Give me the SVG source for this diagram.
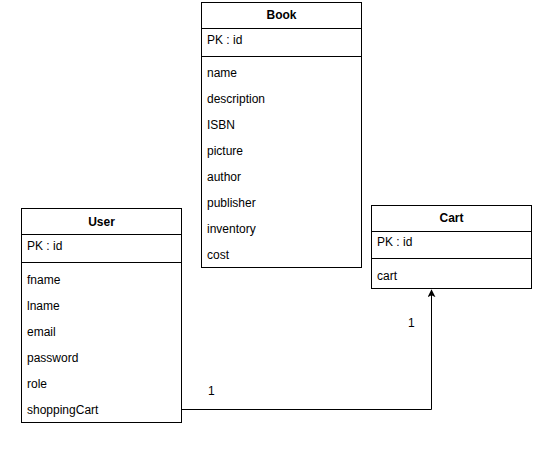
<svg xmlns="http://www.w3.org/2000/svg" width="554" height="458" viewBox="0 0 554 458">
<style>
.box{fill:#fff;stroke:#000;stroke-width:1}
.ln{stroke:#000;stroke-width:1;fill:none}
text{font-family:"Liberation Sans",Arial,sans-serif;font-size:12px;fill:#000}
.t{font-weight:bold;text-anchor:middle}
</style>
<defs>
<marker id="arr" viewBox="0 0 10 10" refX="9" refY="5" markerWidth="8" markerHeight="8" markerUnits="userSpaceOnUse" orient="auto">
<path d="M0,0 L10,5 L0,10 L2.5,5 Z" fill="#000"/>
</marker>
</defs>
<rect width="554" height="458" fill="#fff"/>
<g id="connectors">
<path class="ln" d="M181.5,409.5 H431.5 V290" marker-end="url(#arr)"/>
<text x="208" y="395">1</text>
<text x="408" y="327">1</text>
</g>
<g id="book">
<rect class="box" x="201.5" y="2.5" width="160" height="265"/>
<line class="ln" x1="201.5" y1="28.5" x2="361.5" y2="28.5"/>
<line class="ln" x1="201.5" y1="56.5" x2="361.5" y2="56.5"/>
<text class="t" x="281.5" y="19">Book</text>
<text x="207" y="44">PK : id</text>
<text x="207" y="77">name</text>
<text x="207" y="103">description</text>
<text x="207" y="129">ISBN</text>
<text x="207" y="155">picture</text>
<text x="207" y="181">author</text>
<text x="207" y="207">publisher</text>
<text x="207" y="233">inventory</text>
<text x="207" y="259">cost</text>
</g>
<g id="user">
<rect class="box" x="21.5" y="208.5" width="160" height="214"/>
<line class="ln" x1="21.5" y1="234.5" x2="181.5" y2="234.5"/>
<line class="ln" x1="21.5" y1="262.5" x2="181.5" y2="262.5"/>
<text class="t" x="101.5" y="226">User</text>
<text x="27" y="250">PK : id</text>
<text x="27" y="284">fname</text>
<text x="27" y="310">lname</text>
<text x="27" y="336">email</text>
<text x="27" y="362">password</text>
<text x="27" y="388">role</text>
<text x="27" y="414">shoppingCart</text>
</g>
<g id="cart">
<rect class="box" x="371.5" y="205.5" width="160" height="83"/>
<line class="ln" x1="371.5" y1="231.5" x2="531.5" y2="231.5"/>
<line class="ln" x1="371.5" y1="258.5" x2="531.5" y2="258.5"/>
<text class="t" x="451.5" y="222">Cart</text>
<text x="377" y="246">PK : id</text>
<text x="377" y="280">cart</text>
</g>
</svg>
